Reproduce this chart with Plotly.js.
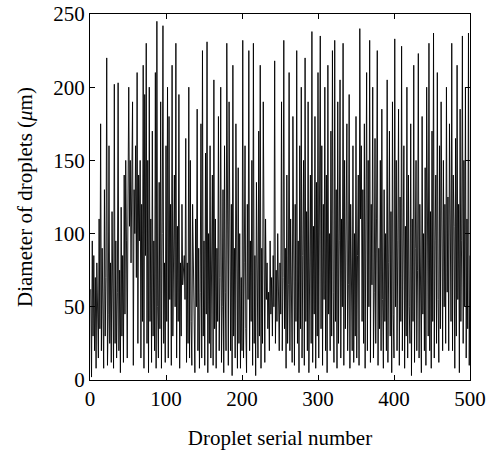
<!DOCTYPE html>
<html>
<head>
<meta charset="utf-8">
<script src="https://cdn.plot.ly/plotly-3.0.1.min.js"></script>
<style>html,body{margin:0;padding:0;background:#fff;}#chart{width:488px;height:457px;}</style>
</head>
<body>
<div id="chart"></div>
<script>
const diameters = [
62, 2, 95, 30, 85, 20, 70, 8, 80, 25,
15, 110, 35, 175, 20, 90, 50, 8, 130, 30,
70, 220, 10, 45, 160, 25, 80, 12, 115, 30,
8, 202, 25, 95, 15, 60, 203, 20, 75, 5,
118, 30, 85, 12, 140, 45, 150, 95, 15, 125,
200, 105, 150, 80, 145, 190, 10, 130, 100, 160,
70, 210, 25, 140, 95, 150, 15, 120, 40, 215,
8, 195, 85, 230, 25, 150, 5, 200, 40, 110,
12, 170, 30, 95, 20, 210, 8, 245, 50, 15,
135, 35, 190, 8, 100, 242, 25, 80, 12, 160,
40, 200, 15, 180, 55, 120, 10, 215, 30, 90,
140, 50, 230, 15, 105, 40, 195, 8, 80, 30,
120, 65, 75, 85, 55, 165, 12, 80, 25, 200,
15, 150, 40, 10, 120, 75, 30, 5, 110, 50,
185, 20, 90, 8, 60, 175, 15, 225, 30, 95,
10, 155, 45, 231, 5, 100, 25, 160, 15, 85,
140, 10, 205, 35, 110, 8, 90, 40, 180, 20,
70, 200, 12, 50, 130, 5, 160, 60, 20, 230,
40, 10, 190, 55, 20, 120, 3, 215, 30, 90,
15, 175, 45, 8, 145, 25, 100, 8, 70, 20,
232, 15, 80, 160, 35, 5, 120, 55, 225, 20,
95, 40, 150, 10, 230, 25, 85, 3, 135, 40,
15, 170, 30, 215, 8, 90, 25, 190, 50, 12,
110, 55, 80, 35, 60, 20, 95, 45, 70, 30,
85, 50, 218, 25, 75, 40, 100, 60, 20, 80,
45, 190, 20, 70, 232, 35, 90, 8, 140, 25,
65, 210, 20, 110, 35, 12, 180, 55, 10, 120,
40, 225, 25, 95, 5, 160, 35, 200, 15, 85,
150, 10, 220, 40, 115, 20, 190, 5, 75, 140,
25, 238, 12, 105, 45, 180, 8, 135, 30, 210,
15, 95, 235, 35, 160, 10, 120, 55, 200, 20,
140, 5, 215, 45, 100, 20, 170, 30, 225, 60,
12, 232, 40, 130, 8, 190, 25, 95, 205, 15,
110, 50, 230, 10, 150, 35, 85, 175, 20, 65,
195, 8, 120, 55, 20, 160, 12, 100, 30, 180,
15, 85, 140, 10, 240, 110, 160, 40, 130, 25,
175, 8, 95, 210, 20, 150, 50, 232, 12, 120,
65, 200, 15, 60, 165, 25, 110, 225, 10, 90,
35, 150, 20, 185, 55, 8, 130, 40, 100, 20,
205, 12, 80, 170, 30, 115, 5, 190, 45, 15,
233, 50, 150, 20, 95, 185, 10, 125, 40, 228,
20, 80, 160, 8, 105, 30, 200, 15, 140, 50,
25, 175, 3, 110, 40, 215, 12, 90, 150, 20,
75, 223, 15, 120, 35, 5, 180, 45, 100, 20,
145, 10, 200, 60, 30, 230, 20, 115, 8, 170,
40, 237, 15, 95, 140, 25, 210, 55, 12, 160,
35, 190, 100, 20, 150, 50, 120, 25, 200, 60,
125, 20, 175, 70, 40, 230, 20, 140, 105, 8,
165, 30, 215, 55, 120, 5, 185, 40, 95, 235,
25, 150, 50, 200, 15, 110, 35, 237, 10, 85
];
const serial = diameters.map((_, i) => i + 1);
const xTicks = [0, 100, 200, 300, 400, 500];
const yTicks = [0, 50, 100, 150, 200, 250];
const xTitle = 'Droplet serial number';
const yTitle = 'Diameter of droplets (<i>μ</i>m)';

const font = {family: '"Liberation Serif", "Times New Roman", serif', size: 21, color: '#000'};
const axisCommon = {
  showgrid: false, zeroline: false, showline: true, mirror: 'ticks',
  linecolor: '#000', linewidth: 1, ticks: 'inside', ticklen: 5, tickwidth: 1,
  tickcolor: '#000', tickfont: font
};
Plotly.newPlot('chart', [{
  x: serial, y: diameters, type: 'scatter', mode: 'lines',
  line: {color: '#000', width: 0.9}, hoverinfo: 'skip'
}], {
  width: 488, height: 457,
  margin: {l: 90, r: 18, t: 14, b: 77},
  paper_bgcolor: '#fff', plot_bgcolor: '#fff',
  showlegend: false,
  font: font,
  xaxis: Object.assign({}, axisCommon, {
    range: [0, 500], tickvals: xTicks, ticktext: xTicks.map(String),
    title: {text: xTitle, font: font, standoff: 20}
  }),
  yaxis: Object.assign({}, axisCommon, {
    range: [0, 250], tickvals: yTicks, ticktext: yTicks.map(String),
    title: {text: yTitle, font: font, standoff: 14}
  })
}, {staticPlot: true});
</script>
</body>
</html>
